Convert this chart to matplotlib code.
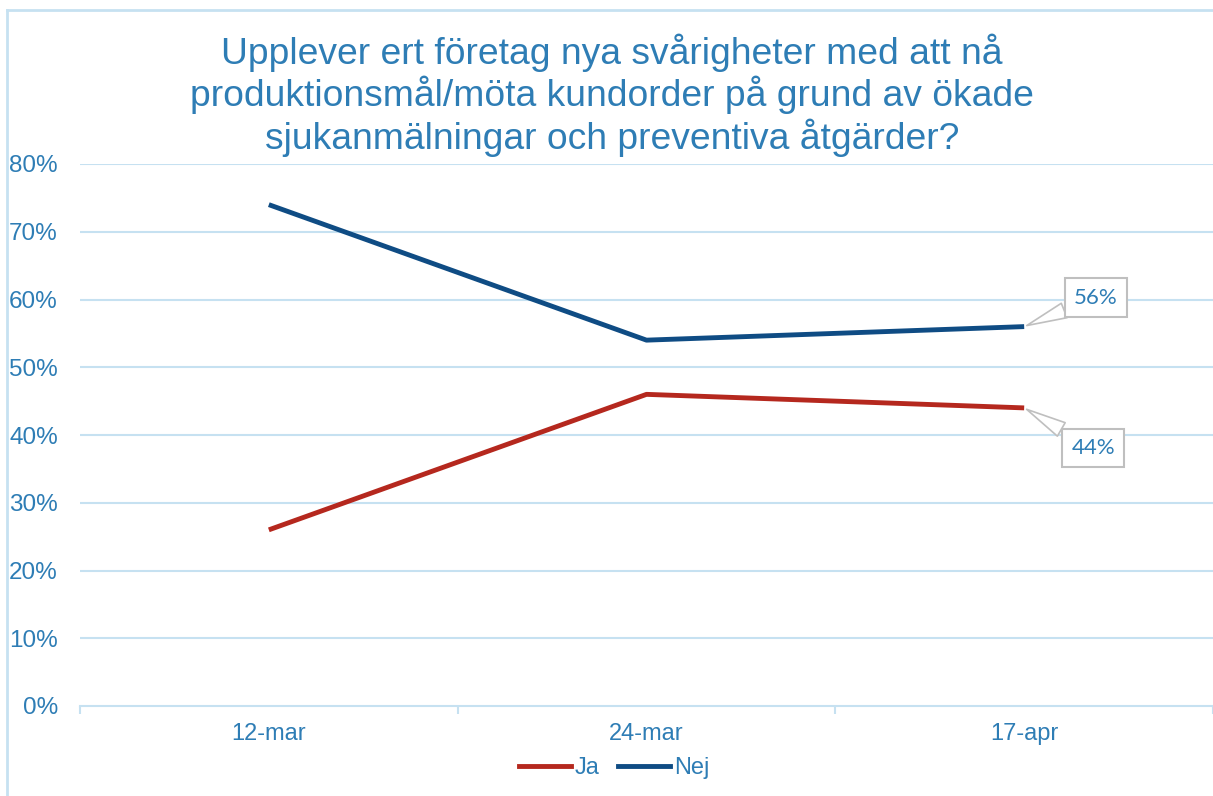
import matplotlib
matplotlib.use("Agg")
import matplotlib.pyplot as plt
from matplotlib.lines import Line2D

categories = ["12-mar", "24-mar", "17-apr"]
ja = [0.26, 0.46, 0.44]
nej = [0.74, 0.54, 0.56]
yticks = [0, 0.1, 0.2, 0.3, 0.4, 0.5, 0.6, 0.7, 0.8]

BLUE_TXT = "#2E7DB5"
GRID = "#C6E1F1"
JA_C = "#B5281E"
NEJ_C = "#0F4C84"

plt.rcParams['font.family'] = ['Liberation Sans', 'DejaVu Sans']

W, H = 1213, 796
fig = plt.figure(figsize=(W/100, H/100), dpi=100)
ax = fig.add_axes([80/W, 1 - 706/H, (1213-80)/W, (706-164)/H])

x = list(range(len(categories)))
ax.plot(x, ja, color=JA_C, lw=3.5, solid_capstyle='butt', label="Ja", zorder=3)
ax.plot(x, nej, color=NEJ_C, lw=3.5, solid_capstyle='butt', label="Nej", zorder=3)

ax.set_xlim(-0.5, len(categories) - 0.5)
ax.set_ylim(0, 0.8)
ax.set_yticks(yticks)
ax.set_yticklabels([f"{int(round(v*100))}%" for v in yticks], color=BLUE_TXT, fontsize=17.5)
ax.set_xticks(x)
ax.set_xticklabels(categories, color=BLUE_TXT, fontsize=17)
ax.tick_params(axis='y', length=0, pad=16)
ax.tick_params(axis='x', length=0, pad=12)
ax.set_xticks([i - 0.5 for i in range(len(categories) + 1)], minor=True)
ax.tick_params(axis='x', which='minor', length=6, color=GRID, width=1.5, direction='out')
for v in yticks[1:]:
    ax.axhline(v, color=GRID, lw=1.5, zorder=1)
for s in ["top", "right", "left"]:
    ax.spines[s].set_visible(False)
ax.spines["bottom"].set_color(GRID)
ax.spines["bottom"].set_linewidth(1.5)

# data labels
bbox = dict(boxstyle="square,pad=0.42", fc="white", ec="#BFBFBF", lw=1.5)
ap = dict(arrowstyle="wedge,tail_width=0.7,shrink_factor=0.5", fc="white", ec="#BFBFBF", lw=1.2,
          shrinkA=0, shrinkB=2)
ax.annotate(f"{int(round(nej[-1]*100))}%", xy=(x[-1], nej[-1]), xytext=(72, 29),
            textcoords='offset pixels', ha='center', va='center', fontsize=16,
            color=BLUE_TXT, family=['Lato', 'DejaVu Sans'], bbox=bbox, arrowprops=ap, zorder=5)
ax.annotate(f"{int(round(ja[-1]*100))}%", xy=(x[-1], ja[-1]), xytext=(69, -40),
            textcoords='offset pixels', ha='center', va='center', fontsize=16,
            color=BLUE_TXT, family=['Lato', 'DejaVu Sans'], bbox=bbox, arrowprops=ap, zorder=5)

fig.text(612/W, 1 - 95/H, "Upplever ert företag nya svårigheter med att nå\nproduktionsmål/möta kundorder på grund av ökade\nsjukanmälningar och preventiva åtgärder?",
         ha='center', va='center', fontsize=26.8, color=BLUE_TXT, linespacing=1.13)

handles = [Line2D([], [], color=JA_C, lw=3.5), Line2D([], [], color=NEJ_C, lw=3.5)]
leg = fig.legend(handles, ["Ja", "Nej"], loc='center', bbox_to_anchor=(614/W, 1 - 768/H),
                 ncol=2, frameon=False, fontsize=17, handlelength=2.2, handletextpad=0.15,
                 columnspacing=0.8)
for t in leg.get_texts():
    t.set_color(BLUE_TXT)

# chart area border (left and top visible)
fig.add_artist(Line2D([7/W, 7/W], [0, 1 - 10/H], color=GRID, lw=2, transform=fig.transFigure))
fig.add_artist(Line2D([7/W, 1], [1 - 10/H, 1 - 10/H], color=GRID, lw=2, transform=fig.transFigure))

fig.savefig("out.png", dpi=100)
